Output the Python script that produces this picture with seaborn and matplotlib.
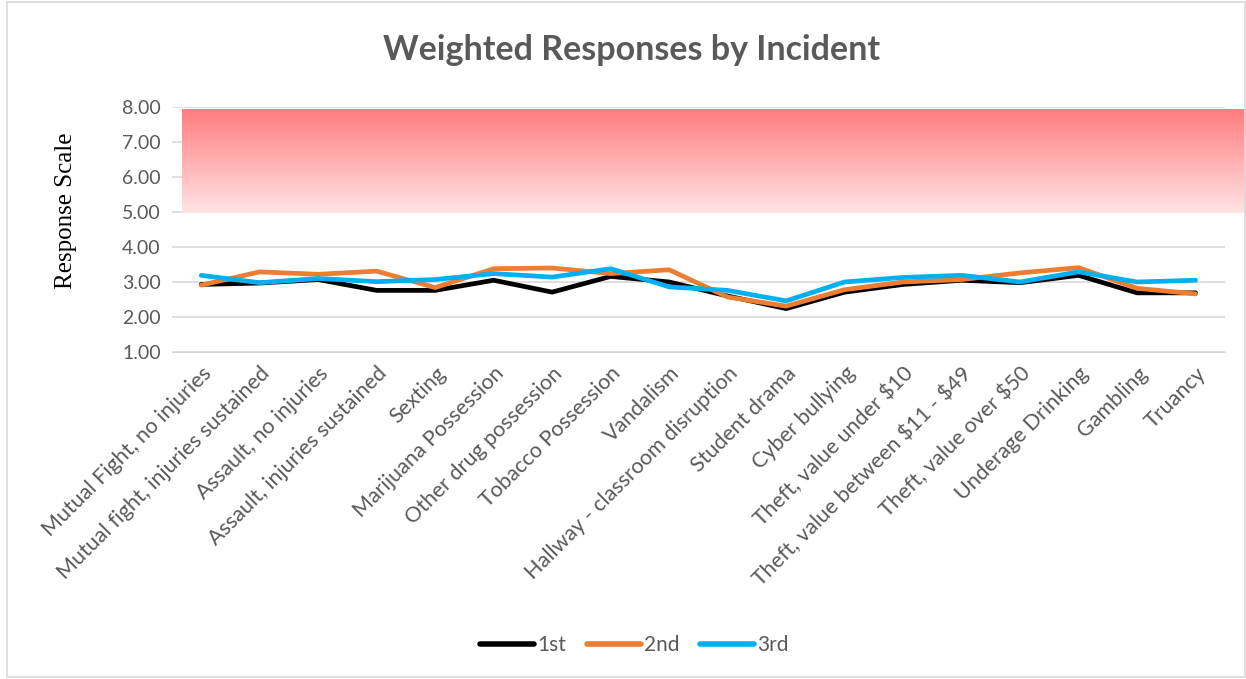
import numpy as np
import pandas as pd
import matplotlib
matplotlib.use("Agg")
import matplotlib.pyplot as plt
import seaborn as sns
from matplotlib.colors import LinearSegmentedColormap
from matplotlib.patches import Rectangle

incidents = [
    "Mutual Fight, no injuries", "Mutual fight, injuries sustained",
    "Assault, no injuries", "Assault, injuries sustained", "Sexting",
    "Marijuana Possession", "Other drug possession", "Tobacco Possession",
    "Vandalism", "Hallway - classroom disruption", "Student drama",
    "Cyber bullying", "Theft, value under $10", "Theft, value between $11 - $49",
    "Theft, value over $50", "Underage Drinking", "Gambling", "Truancy",
]
first = [2.93, 2.97, 3.07, 2.76, 2.76, 3.05, 2.71, 3.16, 3.00, 2.60,
         2.24, 2.71, 2.93, 3.05, 2.98, 3.19, 2.69, 2.69]
second = [2.91, 3.29, 3.22, 3.31, 2.84, 3.38, 3.40, 3.24, 3.35, 2.57,
          2.31, 2.78, 3.00, 3.07, 3.26, 3.41, 2.82, 2.66]
third = [3.19, 2.98, 3.10, 3.01, 3.07, 3.24, 3.14, 3.38, 2.86, 2.76,
         2.46, 3.00, 3.13, 3.19, 3.00, 3.29, 3.00, 3.05]
series = ["1st", "2nd", "3rd"]
colors = ["#000000", "#ED7D31", "#00B0F0"]

df = pd.DataFrame({
    "Incident": incidents * 3,
    "Score": first + second + third,
    "Series": np.repeat(series, len(incidents)),
})

sns.set_style("white")
plt.rcParams["font.family"] = ["Lato", "DejaVu Sans"]
plt.rcParams["text.parse_math"] = False
grey = "#595959"

fig = plt.figure(figsize=(12.46, 6.79), dpi=100)
ax = fig.add_axes([0.138, 0.4816, 0.845, 0.3608])

sns.lineplot(data=df, x="Incident", y="Score", hue="Series", palette=colors,
             sort=False, linewidth=3.4, ax=ax, zorder=3)

# red "danger" band
cmap = LinearSegmentedColormap.from_list("band", ["#FFE4E4", "#FF7C80"])
grad = np.linspace(0, 1, 256).reshape(-1, 1)
ax.imshow(grad, cmap=cmap, origin="lower", aspect="auto",
          extent=(-0.32, 17.86, 4.97, 7.94), clip_on=False, zorder=2)

ax.set_xlim(-0.5, len(incidents) - 0.5)
ax.set_ylim(1, 8)
ax.set_yticks(range(1, 9))
ax.set_yticklabels([f"{v:.2f}" for v in range(1, 9)], color=grey, fontsize=14)
ax.yaxis.grid(True, color="#D9D9D9", linewidth=1.2, zorder=0)
ax.set_axisbelow(True)
for s in ["top", "right", "left"]:
    ax.spines[s].set_visible(False)
ax.spines["bottom"].set_color("#D9D9D9")
ax.tick_params(axis="both", length=0, pad=8)
ax.set_xticks(range(len(incidents)))
ax.set_xticklabels(incidents, rotation=45, ha="right", rotation_mode="anchor",
                   color=grey, fontsize=15.5)
ax.set_xlabel("")
ax.set_ylabel("Response Scale", family="Liberation Serif", fontsize=18,
              color="black")
ax.yaxis.set_label_coords(-0.09, 0.575)

fig.suptitle("Weighted Responses by Incident", x=0.507, y=0.95,
             fontsize=24.5, fontweight="bold", color=grey)

leg = ax.legend(loc="center", bbox_to_anchor=(0.509, 0.05),
                bbox_transform=fig.transFigure, ncol=3, frameon=False,
                fontsize=15, handlelength=2.6, handletextpad=0.15,
                columnspacing=1.0)
for t in leg.get_texts():
    t.set_color(grey)
for l in leg.get_lines():
    l.set_linewidth(4)
    l.set_solid_capstyle("round")

fig.patches.append(Rectangle((0.006, 0.003), 0.993, 0.994, transform=fig.transFigure,
                             fill=False, edgecolor="#D9D9D9", linewidth=1.2))

fig.savefig("out.png", dpi=100)
plt.close(fig)
